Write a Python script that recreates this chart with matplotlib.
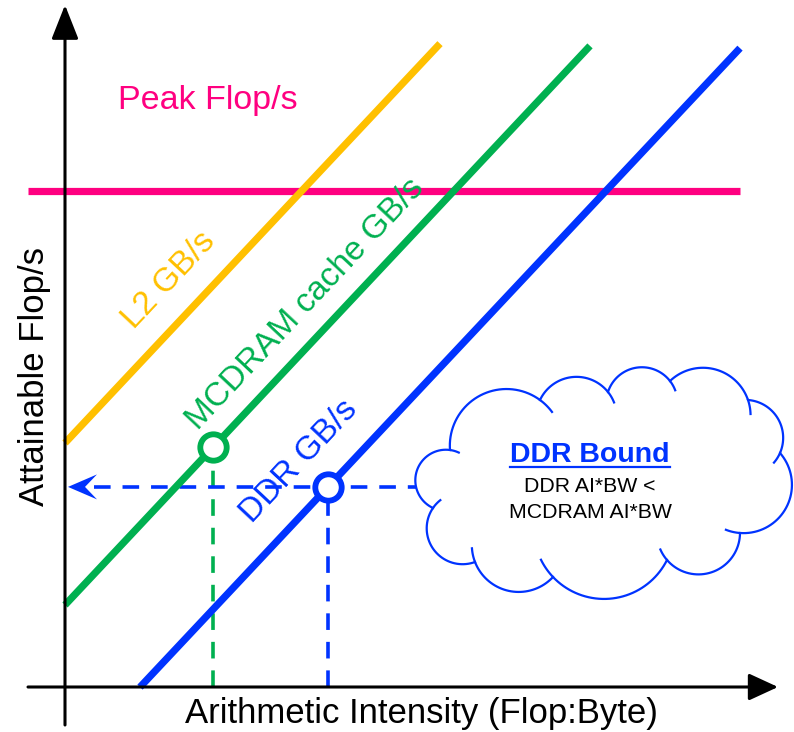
import numpy as np
import matplotlib
matplotlib.use("Agg")
import matplotlib.pyplot as plt
from matplotlib.patches import FancyArrowPatch, Polygon

plt.rcParams["font.family"] = ["Liberation Sans", "DejaVu Sans"]

# schematic roofline, linear units (origin = axes crossing)
bw_labels = ["L2 GB/s", "MCDRAM cache GB/s", "DDR GB/s"]
bw_colors = ["#FFC000", "#00B050", "#0033FF"]
bw_slope = 1.065
bw_intercept = [244, 82, -80]
bw_ai_start = [0, 0, 75]
bw_ai_end = [375, 525, 675]

peak_flops = 496
peak_ai_range = [-37, 675]
peak_color = "#FF0080"

kernel_ai_mcdram = 148
kernel_ai_ddr = 263

xlim = (-65, 729)
ylim = (-45, 687)

# cloud shape: junctions between bumps (relative to centre) and bump heights
cloud_center = (538, 204)
cloud_joints = [(177, 30), (145, 83), (67, 102), (5, 91), (-63, 83), (-153, 33),
                (-170, -25), (-128, -79), (-50, -94), (64, -77), (137, -50)]
cloud_sag = [16, 22, 19, 19, 33, 26, 25, 22, 30, 27, 30]


def cloud_path(center, joints, sags, hook=0.3):
    pts = np.array(joints, dtype=float) + np.array(center)
    outline, hooks = [], []
    for i in range(len(pts)):
        p1, p2 = pts[i], pts[(i + 1) % len(pts)]
        v = p2 - p1
        c = np.hypot(*v)
        h = c / 2
        s = sags[i]
        n = np.array([v[1], -v[0]]) / c
        r = (h ** 2 + s ** 2) / (2 * s)
        cen = (p1 + p2) / 2 + n * (s - r)
        a1 = np.arctan2(*(p1 - cen)[::-1])
        a2 = np.arctan2(*(p2 - cen)[::-1])
        span = (a2 - a1) % (2 * np.pi)
        t = np.linspace(a1, a1 + span, 40)
        outline.append(np.column_stack([cen[0] + r * np.cos(t), cen[1] + r * np.sin(t)]))
        t = np.linspace(a1 - hook, a1, 10)
        hooks.append(np.column_stack([cen[0] + r * np.cos(t), cen[1] + r * np.sin(t)]))
    return np.vstack(outline), hooks


fig = plt.figure(figsize=(7.94, 7.32), dpi=100)
ax = fig.add_axes([0, 0, 1, 1])
ax.set_xlim(*xlim)
ax.set_ylim(*ylim)
ax.axis("off")

# axes with arrows
ax.add_patch(FancyArrowPatch((0, -38), (0, 682), arrowstyle="-|>,head_length=21,head_width=8.3",
                             mutation_scale=1, lw=2.2, color="black", shrinkA=0, shrinkB=0, zorder=5))
ax.add_patch(FancyArrowPatch((-37, 0), (713, 0), arrowstyle="-|>,head_length=18,head_width=8.3",
                             mutation_scale=1, lw=2.2, color="black", shrinkA=0, shrinkB=0, zorder=5))

# peak
ax.plot(peak_ai_range, [peak_flops, peak_flops], color=peak_color, lw=5.2, solid_capstyle="butt", zorder=2)
ax.text(53, 587, "Peak Flop/s", color=peak_color, fontsize=24.5, ha="left", va="center")

# bandwidth ceilings
for x0, x1, b, color in zip(bw_ai_start, bw_ai_end, bw_intercept, bw_colors):
    xs = np.array([x0, x1])
    ax.plot(xs, bw_slope * xs + b, color=color, lw=5.2, solid_capstyle="butt", zorder=3)

angle = np.degrees(np.arctan(bw_slope))
label_pos = [(104, 407), (240, 383), (234, 226)]
for (lx, ly), text, color in zip(label_pos, bw_labels, bw_colors):
    ax.text(lx, ly, text, color=color, fontsize=24, rotation=angle,
            rotation_mode="anchor", ha="center", va="center")

# kernel points and drop lines
y_mc = bw_slope * kernel_ai_mcdram + bw_intercept[1]
y_ddr = bw_slope * kernel_ai_ddr + bw_intercept[2]

ax.plot([kernel_ai_mcdram, kernel_ai_mcdram], [0, y_mc], color=bw_colors[1], lw=2.6,
        dashes=(4.6, 3.3), zorder=2)
ax.plot([kernel_ai_ddr, kernel_ai_ddr], [0, y_ddr], color=bw_colors[2], lw=2.6,
        dashes=(4.6, 3.3), zorder=2)
ax.plot([29, 380], [y_ddr, y_ddr], color=bw_colors[2], lw=2.6, dashes=(4.6, 3.3), zorder=2)
ax.add_patch(Polygon([[3, y_ddr], [32, y_ddr + 12.5], [20, y_ddr], [32, y_ddr - 12.5]],
                     closed=True, color=bw_colors[2], lw=0, zorder=4))

ax.plot(kernel_ai_mcdram, y_mc, "o", ms=19, mfc="white", mec=bw_colors[1], mew=4.2, zorder=6)
ax.plot(kernel_ai_ddr, y_ddr, "o", ms=19, mfc="white", mec=bw_colors[2], mew=4.2, zorder=6)

# cloud
outline, hooks = cloud_path(cloud_center, cloud_joints, cloud_sag)
ax.add_patch(Polygon(outline, closed=True, fc="white", ec=bw_colors[2], lw=1.6, zorder=7))
for hk in hooks:
    ax.plot(hk[:, 0], hk[:, 1], color=bw_colors[2], lw=1.6, zorder=8)

t = ax.text(525, 232, "DDR Bound", color=bw_colors[2], fontsize=20.5, fontweight="bold",
            ha="center", va="center", zorder=9)
ax.text(525, 201, "DDR AI*BW <", color="black", fontsize=15.3, ha="center", va="center", zorder=9)
ax.text(525, 175, "MCDRAM AI*BW", color="black", fontsize=15.3, ha="center", va="center", zorder=9)

fig.canvas.draw()
bb = t.get_window_extent().transformed(ax.transData.inverted())
ax.plot([bb.x0, bb.x1], [220, 220], color=bw_colors[2], lw=1.6, zorder=9)

# axis labels
ax.text(356, -26, "Arithmetic Intensity (Flop:Byte)", fontsize=25, ha="center", va="center")
ax.text(-30, 310, "Attainable Flop/s", fontsize=25, rotation=90, ha="center", va="center")

fig.savefig("out.png", dpi=100)
